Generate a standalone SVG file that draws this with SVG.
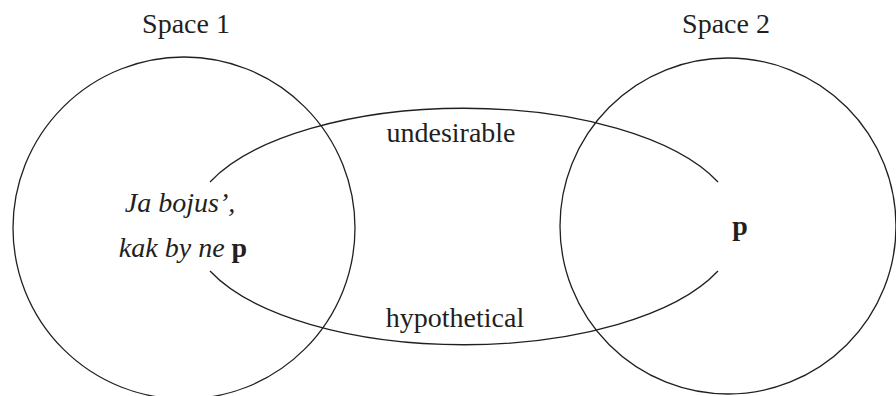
<svg xmlns="http://www.w3.org/2000/svg" width="896" height="396" viewBox="0 0 896 396">
<style>
.t{font-family:'Liberation Serif','DejaVu Serif',serif;font-size:28px;fill:#231f20;text-anchor:middle}
.i{font-style:italic}
.b{font-weight:bold;font-style:normal}
.ln{fill:none;stroke:#231f20;stroke-width:1.3}
</style>
<rect width="896" height="396" fill="#fff"/>
<g id="space1">
<circle class="ln" cx="184" cy="228" r="171"/>
<text class="t" x="186" y="33">Space 1</text>
<text class="t i" x="180" y="212">Ja bojus’,</text>
<text class="t i" x="183" y="257">kak by ne <tspan class="b">p</tspan></text>
</g>
<g id="space2">
<circle class="ln" cx="728" cy="226" r="168"/>
<text class="t" x="726" y="33">Space 2</text>
<text class="t b" x="740" y="235">p</text>
</g>
<g id="connectors">
<path class="ln" d="M210,182 A274,118 0 0 1 718,182"/>
<path class="ln" d="M210,271 A274,118 0 0 0 718,271"/>
<text class="t" x="451" y="142">undesirable</text>
<text class="t" x="455" y="327">hypothetical</text>
</g>
</svg>
